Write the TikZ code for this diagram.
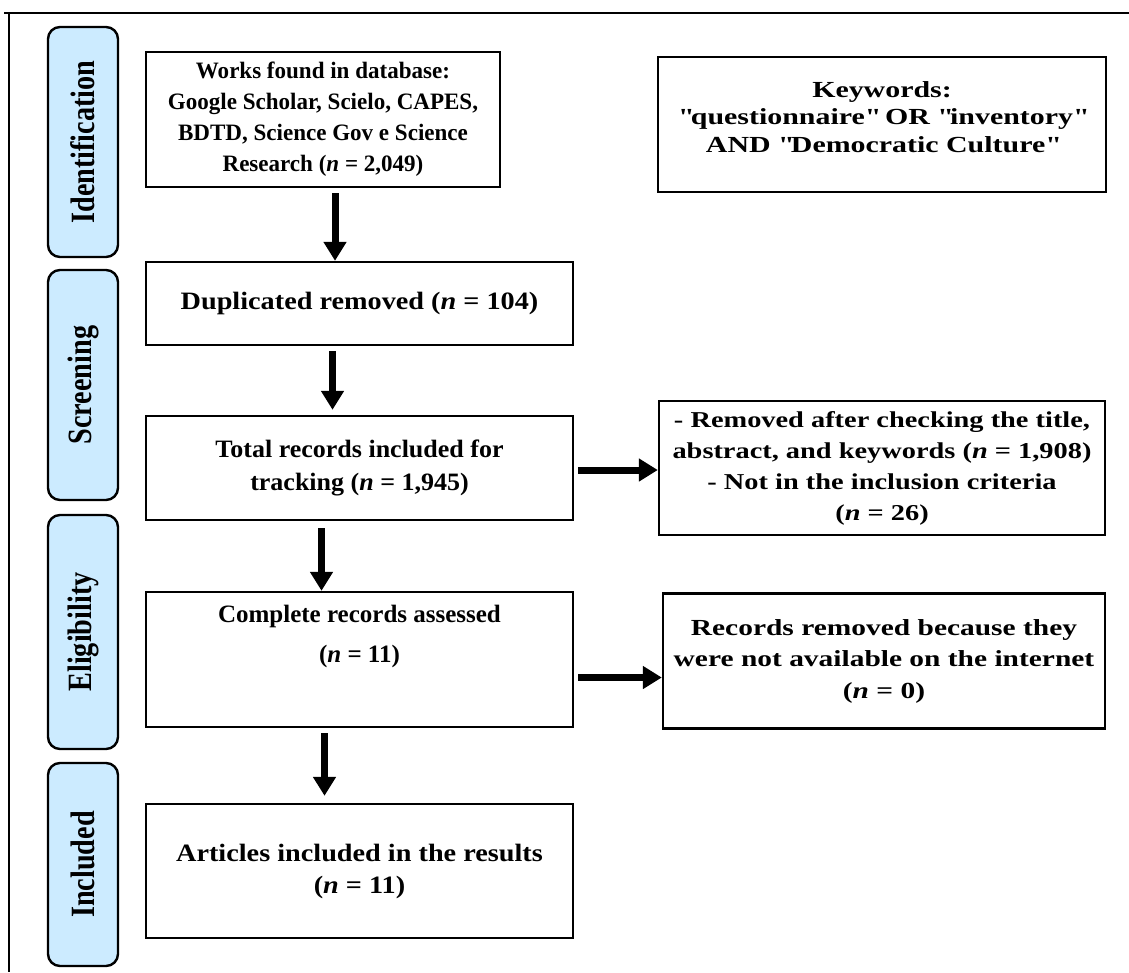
\documentclass[tikz,border=0pt]{standalone}
\usepackage{fontspec}
\setmainfont{Liberation Serif}
\usepackage{tikz}
\usetikzlibrary{arrows.meta,calc}
\definecolor{StageBlue}{HTML}{CCEBFF}
% size, line skip, horizontal stretch
\newcommand{\boxfont}[3]{\fontsize{#1}{#2}\selectfont\bfseries\addfontfeatures{FakeStretch=#3}}
\newcommand{\qtd}[1]{\textquotedbl#1\textquotedbl}

\begin{document}
\begin{tikzpicture}[x=1pt,y=-1pt,
    stagebox/.style={draw,line width=2.4pt,rounded corners=12pt,fill=StageBlue,
      minimum height=70pt,rotate=90,font=\boxfont{34}{36}{0.83}},
    flowbox/.style={draw,line width=2.4pt,align=center,inner sep=0pt},
    flow/.style={line width=7pt,-{Triangle[width=22pt,length=19pt]}}]
  \useasboundingbox (0,0) rectangle (1129,972);
  % frame
  \draw[line width=2pt] (4,13) -- (1129,13);
  \draw[line width=2pt] (9,13) -- (9,972);

  % stages
  \node[stagebox,minimum width=230pt] (ident) at (83,142) {Identification};
  \node[stagebox,minimum width=230pt] (screen) at (83,385) {Screening};
  \node[stagebox,minimum width=234pt] (elig) at (83,632) {Eligibility};
  \node[stagebox,minimum width=203pt] (incl) at (83,864.5) {Included};

  % boxes
  \node[flowbox,minimum width=354pt,minimum height=135pt,font=\boxfont{23.5}{31}{0.98}]
    (works) at (323,119.5)
    {Works found in database:\\Google Scholar, Scielo, CAPES,\\BDTD, Science Gov e Science\\Research (\textit{n} = 2,049)};
  \node[flowbox,minimum width=448pt,minimum height=135pt,font=\boxfont{23}{27.5}{1.3}]
    (keywords) at (882,124.5)
    {Keywords:\\\qtd{questionnaire} OR \qtd{inventory}\\AND \qtd{Democratic Culture}\\[-20pt]\strut};
  \node[flowbox,minimum width=427pt,minimum height=83pt,font=\boxfont{25}{31}{1.13}]
    (dup) at (359.5,303.5)
    {Duplicated removed (\textit{n} = 104)};
  \node[flowbox,minimum width=427pt,minimum height=104pt,font=\boxfont{25}{33}{1.04}]
    (total) at (359.5,468)
    {Total records included for\\tracking (\textit{n} = 1,945)};
  \node[flowbox,minimum width=446pt,minimum height=134pt,font=\boxfont{22.7}{31}{1.25}]
    (removed) at (882,468)
    {- Removed after checking the title,\\abstract, and keywords (\textit{n} = 1,908)\\- Not in the inclusion criteria\\(\textit{n} = 26)};
  \node[flowbox,minimum width=427pt,minimum height=135pt,font=\boxfont{25}{40}{1.0}]
    (complete) at (359.5,659.5)
    {Complete records assessed\\(\textit{n} = 11)\\\strut};
  \node[flowbox,minimum width=442pt,minimum height=135pt,font=\boxfont{23}{31.5}{1.28}]
    (notavail) at (884,661)
    {Records removed because they\\were not available on the internet\\(\textit{n} = 0)};
  \node[flowbox,minimum width=427pt,minimum height=134pt,font=\boxfont{25}{32}{1.13}]
    (articles) at (359.5,871)
    {Articles included in the results\\(\textit{n} = 11)};

  % arrows
  \draw[flow] ([xshift=12pt,yshift=-5pt]works.south) -- ([xshift=12pt]works.south |- dup.north);
  \draw[flow] ([xshift=-27pt,yshift=-5pt]dup.south) -- ([xshift=-27pt,yshift=5pt]dup.south |- total.north);
  \draw[flow] ([xshift=-38pt,yshift=-7pt]total.south) -- ([xshift=-38pt]total.south |- complete.north);
  \draw[flow] ([xshift=-35pt,yshift=-5pt]complete.south) -- ([xshift=-35pt,yshift=7pt]complete.south |- articles.north);
  \draw[flow] ([xshift=4pt,yshift=-2pt]total.east) -- ([yshift=-2pt]total.east -| removed.west);
  \draw[flow] ([xshift=4pt,yshift=-18pt]complete.east) -- ([yshift=-18pt]complete.east -| notavail.west);
\end{tikzpicture}
\end{document}
